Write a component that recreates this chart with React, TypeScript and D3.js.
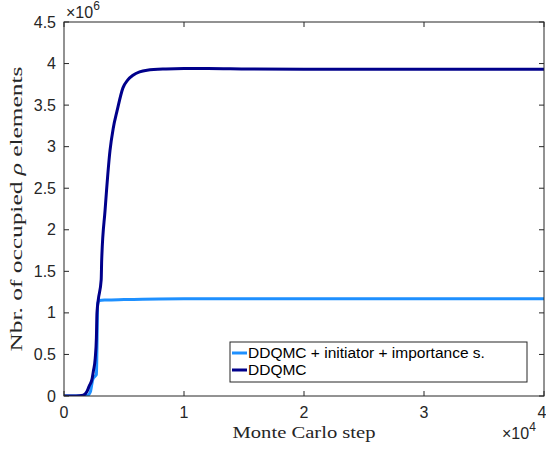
import React from "react";
import * as d3 from "d3";

// Monte Carlo step
const darkSteps = [0, 1000, 1600, 1900, 2100, 2330, 2450, 2600, 2700, 2750, 2850, 3100, 3140, 3420, 3830, 4100, 4420, 4920, 5300, 5750, 6300, 6920, 8500, 10000, 12000, 15000, 20000, 25000, 30000, 35000, 40000];
// occupied elements (×1e6)
const darkValues = [0, 0, 0.01, 0.05, 0.12, 0.2, 0.3, 0.45, 0.7, 1.0, 1.15, 1.4, 1.63, 2.23, 2.95, 3.22, 3.43, 3.71, 3.8, 3.86, 3.9, 3.92, 3.935, 3.94, 3.94, 3.935, 3.93, 3.93, 3.93, 3.93, 3.93];

const lightSteps = [0, 1500, 2000, 2200, 2400, 2600, 2700, 2750, 2800, 2850, 2950, 3500, 5000, 10000, 20000, 30000, 40000];
const lightValues = [0, 0, 0.01, 0.05, 0.2, 0.24, 0.26, 0.6, 1.1, 1.13, 1.15, 1.155, 1.16, 1.17, 1.17, 1.17, 1.17];

const xTicks = [0, 10000, 20000, 30000, 40000];
const xTickLabels = ["0", "1", "2", "3", "4"];
const yTicks = [0, 0.5, 1, 1.5, 2, 2.5, 3, 3.5, 4, 4.5];
const yTickLabels = ["0", "0.5", "1", "1.5", "2", "2.5", "3", "3.5", "4", "4.5"];

const seriesNames = ["DDQMC + initiator + importance s.", "DDQMC"];
const seriesColors = ["#1E90FF", "#00008B"];

export default function App() {
  const W = 546, H = 450;
  const left = 64, right = 544, top = 22, bottom = 396;
  const x = d3.scaleLinear().domain([0, 40000]).range([left, right]);
  const y = d3.scaleLinear().domain([0, 4.5]).range([bottom, top]);
  const line = d3.line<[number, number]>().x(d => x(d[0])).y(d => y(d[1])).curve(d3.curveMonotoneX);
  const lightPath = line(lightSteps.map((s, i) => [s, lightValues[i]]))!;
  const darkPath = line(darkSteps.map((s, i) => [s, darkValues[i]]))!;
  const axisColor = "#262626";
  const sans = "'Liberation Sans', Arial, Helvetica, sans-serif";
  const serif = "'Liberation Serif', 'DejaVu Serif', serif";
  const tl = 5;
  const legX = 230, legY = 342, legW = 297, legH = 40;

  return (
    <svg width={W} height={H} style={{ position: "absolute", left: 0, top: 0, background: "#fff" }}>
      <rect x={0} y={0} width={W} height={H} fill="#fff" />
      <defs>
        <clipPath id="clip">
          <rect x={left} y={top} width={right - left} height={bottom - top} />
        </clipPath>
      </defs>
      <g clipPath="url(#clip)">
        <path d={lightPath} fill="none" stroke={seriesColors[0]} strokeWidth={3} strokeLinejoin="round" />
        <path d={darkPath} fill="none" stroke={seriesColors[1]} strokeWidth={3} strokeLinejoin="round" />
      </g>
      {/* box */}
      <rect x={left} y={top} width={right - left} height={bottom - top} fill="none" stroke={axisColor} strokeWidth={1} />
      {xTicks.map((t, i) => (
        <g key={"xt" + i}>
          <line x1={x(t)} x2={x(t)} y1={bottom} y2={bottom - tl} stroke={axisColor} />
          <line x1={x(t)} x2={x(t)} y1={top} y2={top + tl} stroke={axisColor} />
          <text x={i === xTicks.length - 1 ? x(t) - 2 : x(t)} y={418} textAnchor="middle" fontFamily={sans} fontSize={16} fill={axisColor}>{xTickLabels[i]}</text>
        </g>
      ))}
      {yTicks.map((t, i) => (
        <g key={"yt" + i}>
          <line x1={left} x2={left + tl} y1={y(t)} y2={y(t)} stroke={axisColor} />
          <line x1={right} x2={right - tl} y1={y(t)} y2={y(t)} stroke={axisColor} />
          <text x={56} y={y(t)} dy="0.35em" textAnchor="end" fontFamily={sans} fontSize={16} fill={axisColor}>{yTickLabels[i]}</text>
        </g>
      ))}
      <text x={66} y={18} fontFamily={sans} fontSize={16} fill={axisColor}>×10<tspan dy={-8} fontSize={12}>6</tspan></text>
      <text x={502} y={439} fontFamily={sans} fontSize={16} fill={axisColor}>×10<tspan dy={-8} fontSize={12}>4</tspan></text>
      <text x={(left + right) / 2} y={438} textAnchor="middle" fontFamily={serif} fontSize={16} fill={axisColor} textLength={143} lengthAdjust="spacingAndGlyphs">Monte Carlo step</text>
      <text transform={`translate(22, 209) rotate(-90)`} textAnchor="middle" fontFamily={serif} fontSize={16} fill={axisColor} textLength={285} lengthAdjust="spacingAndGlyphs">
        Nbr. of occupied <tspan fontStyle="italic">ρ</tspan> elements
      </text>
      {/* legend */}
      <rect x={legX} y={legY} width={legW} height={legH} fill="#fff" stroke={axisColor} strokeWidth={1} />
      {seriesNames.map((n, i) => (
        <g key={"lg" + i}>
          <line x1={legX + 2} x2={legX + 17} y1={legY + 11 + i * 17} y2={legY + 11 + i * 17} stroke={seriesColors[i]} strokeWidth={3} />
          <text x={legX + 18} y={legY + 11 + i * 17} dy="0.35em" fontFamily={sans} fontSize={15.5} fill="#000">{n}</text>
        </g>
      ))}
    </svg>
  );
}
